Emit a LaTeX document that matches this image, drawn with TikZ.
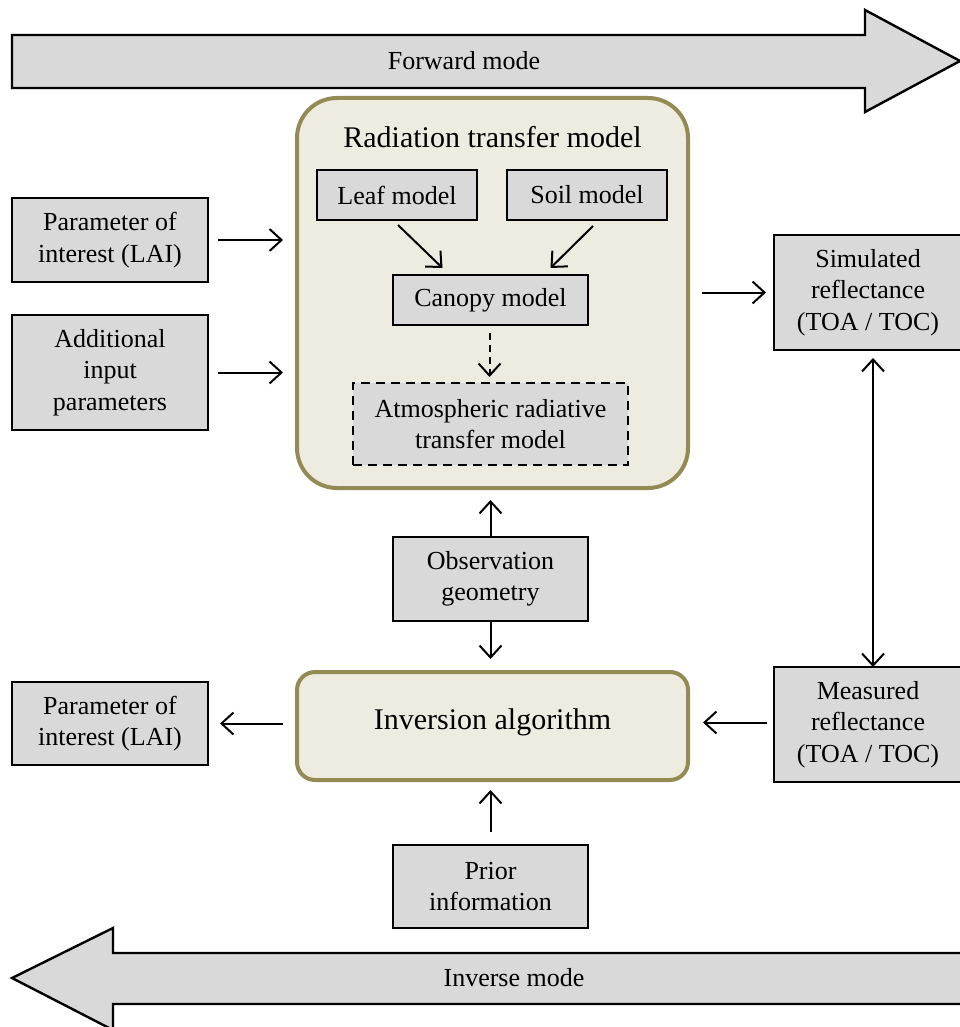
\documentclass[tikz,border=0pt]{standalone}
\usepackage{fontspec}
\setmainfont{Liberation Serif}
\usetikzlibrary{arrows.meta,calc}

\definecolor{boxgray}{HTML}{D9D9D9}
\definecolor{modelfill}{HTML}{EEECE1}
\definecolor{modeledge}{HTML}{948A54}

\tikzset{
  txt/.style={font=\fontsize{26}{31.5}\selectfont, align=center},
  bigtxt/.style={font=\fontsize{30}{36}\selectfont, align=center},
  graybox/.style={txt, draw=black, line width=2.4pt, fill=boxgray,
    inner sep=0pt, outer sep=0pt},
  modelbox/.style={draw=modeledge, line width=4pt, fill=modelfill,
    inner sep=0pt, outer sep=0pt},
  arr/.style={line width=2pt, -{Straight Barb[length=12pt,width=22pt,line width=2pt]}},
  dblarr/.style={line width=2pt, {Straight Barb[length=12pt,width=22pt,line width=2pt]}-{Straight Barb[length=12pt,width=22pt,line width=2pt]}},
  bigarrow/.style={draw=black, line width=2.4pt, fill=boxgray, line join=miter}
}

\begin{document}
\begin{tikzpicture}[x=1pt, y=-1pt]
  \useasboundingbox (0,0) rectangle (960,1027);
  \clip (0,0) rectangle (960,1027);

  % direction bands
  \draw[bigarrow] (12,35) -- (865,35) -- (865,10) -- (960,61) -- (865,112)
    -- (865,88) -- (12,88) -- cycle;
  \node[txt] (fwd) at (464,61) {Forward mode};
  \draw[bigarrow] (12,978) -- (113,928) -- (113,953) -- (975,953) -- (975,1004)
    -- (113,1004) -- (113,1030) -- cycle;
  \node[txt] (inv-mode) at (514,978) {Inverse mode};

  % radiative transfer model container
  \node[modelbox, rounded corners=40pt, minimum width=391pt, minimum height=390pt]
    (rtm) at (492.5,293) {};
  \node[bigtxt] (rtm-title) at (492.5,137) {Radiation transfer model};

  \node[graybox, minimum width=160pt, minimum height=50pt] (leaf) at (397,195) {Leaf model};
  \node[graybox, minimum width=160pt, minimum height=50pt] (soil) at (587,195) {Soil model};
  \node[graybox, minimum width=195pt, minimum height=50pt] (canopy) at (490.5,300) {Canopy model};
  \node[graybox, dash pattern=on 9pt off 6pt, minimum width=275pt, minimum height=82pt]
    (atm) at (490.5,424) {Atmospheric radiative\\transfer model};

  % inversion block
  \node[modelbox, rounded corners=18pt, minimum width=391pt, minimum height=108pt]
    (inv) at (492.5,726) {};
  \node[bigtxt] (inv-label) at (492.5,722) {Inversion algorithm};

  % inputs and outputs
  \node[graybox, minimum width=196pt, minimum height=84pt] (par1) at (110,240) {Parameter of\\interest (LAI)};
  \node[graybox, minimum width=196pt, minimum height=115pt] (add) at (110,372.5) {Additional\\input\\parameters};
  \node[graybox, minimum width=188pt, minimum height=115pt] (sim) at (868,292.5) {Simulated\\reflectance\\(TOA / TOC)};
  \node[graybox, minimum width=188pt, minimum height=115pt] (meas) at (868,724.5) {Measured\\reflectance\\(TOA / TOC)};
  \node[graybox, minimum width=195pt, minimum height=84pt] (obs) at (490.5,579) {Observation\\geometry};
  \node[graybox, minimum width=196pt, minimum height=83pt] (par2) at (110,723.5) {Parameter of\\interest (LAI)};
  \node[graybox, minimum width=195pt, minimum height=83pt] (prior) at (490.5,886.5) {Prior\\information};

  % connectors inside the model
  \draw[arr] ($(leaf.south)+(1,5)$) -- ($(canopy.north)+(-48,-7)$);
  \draw[arr] ($(soil.south)+(6,6)$) -- ($(canopy.north)+(60,-7)$);
  \draw[arr, dash pattern=on 7pt off 5pt] ($(canopy.south)+(-1,8)$) -- ($(atm.north)+(-1,-6)$);

  % forward connectors
  \draw[arr] ($(par1.east)+(10,0)$) -- ($(rtm.west |- par1.east)+(-14,0)$);
  \draw[arr] ($(add.east)+(10,0)$) -- ($(rtm.west |- add.east)+(-14,0)$);
  \draw[arr] ($(rtm.east |- sim.west)+(14,0)$) -- ($(sim.west)+(-8,0)$);
  \draw[dblarr] ($(sim.south)+(5,8)$) -- ($(meas.north)+(5,0)$);

  % observation geometry feeds both blocks
  \draw[arr] (obs.north) -- ($(obs.north |- rtm.south)+(0,12)$);
  \draw[arr] (obs.south) -- ($(obs.south |- inv.north)+(0,-13)$);

  % inverse connectors
  \draw[arr] ($(meas.west)+(-7,-2)$) -- ($(inv.east |- meas.west)+(15,-2)$);
  \draw[arr] ($(inv.west |- par2.east)+(-14,0)$) -- ($(par2.east)+(12,0)$);
  \draw[arr] ($(prior.north)+(0,-13)$) -- ($(prior.north |- inv.south)+(0,10)$);
\end{tikzpicture}
\end{document}
